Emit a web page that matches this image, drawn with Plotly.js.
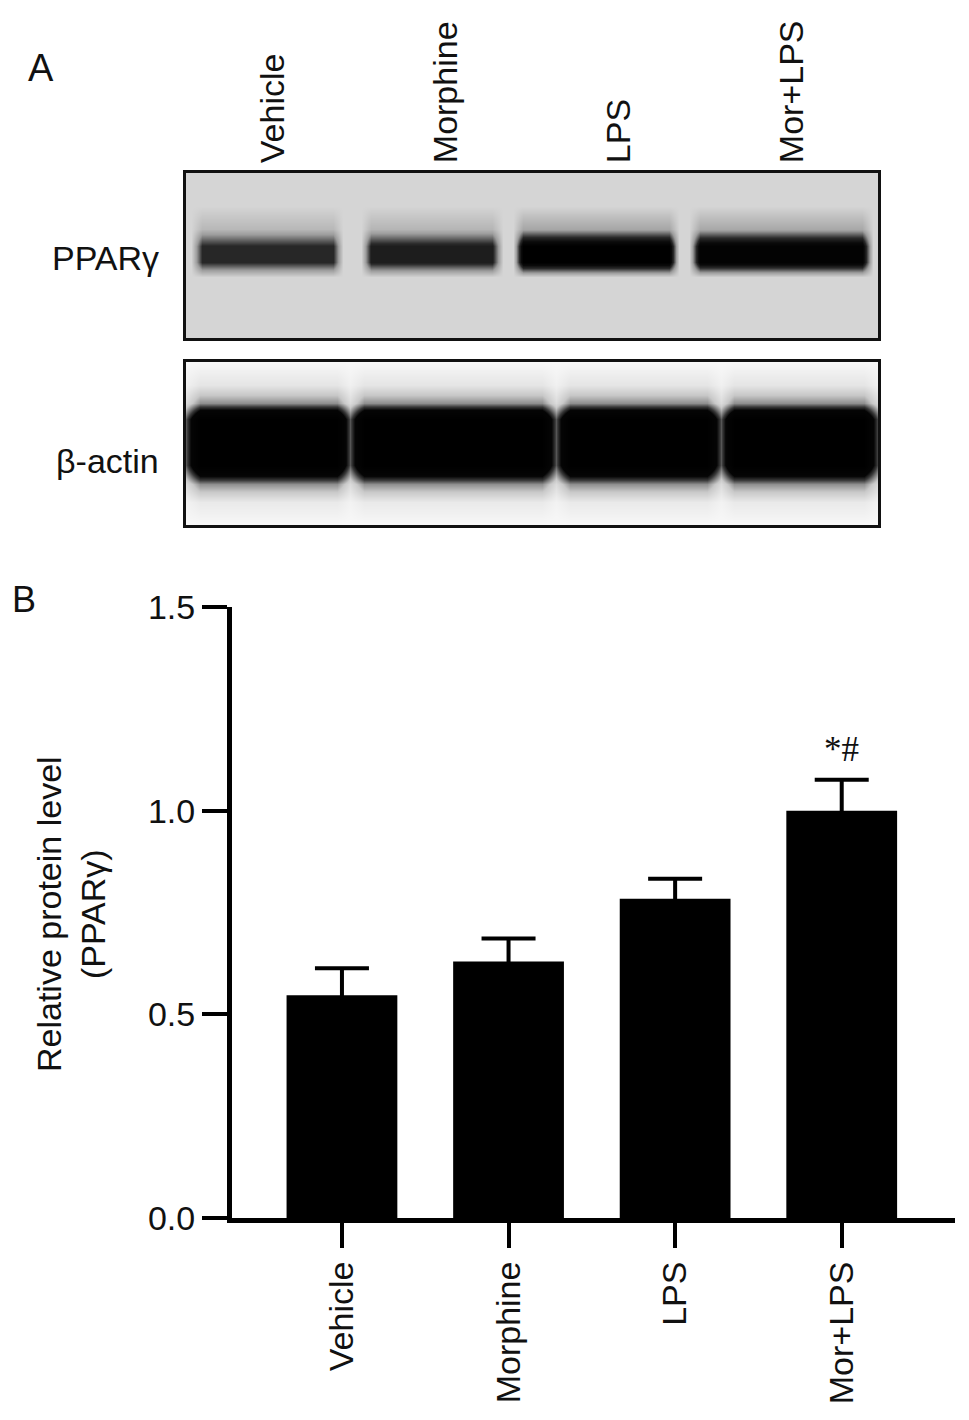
<!DOCTYPE html>
<html>
<head>
<meta charset="utf-8">
<script src="https://cdn.plot.ly/plotly-3.0.1.min.js"></script>
<style>
  body { margin: 0; background: #fff; }
  #plot { width: 969px; height: 1420px; }
</style>
</head>
<body>
<div id="plot"></div>
<script>
// groups (lanes of the blot and bars of the chart)
let arrGroups = ["Vehicle", "Morphine", "LPS", "Mor+LPS"];

// panel B: relative protein level (PPARγ) and its error
let arrLevel = [0.547, 0.630, 0.784, 1.000];
let arrSem = [0.066, 0.056, 0.049, 0.076];
let arrSig = ["", "", "", "*#"];

// panel A: band darkness (1 = fully black)
let arrPparBand = [0.62, 0.68, 1.0, 0.95];
let arrActinBand = [1.0, 1.0, 1.0, 1.0];

// axis ticks of panel B
let arrYTicks = [0, 0.5, 1.0, 1.5];
let arrYTickText = ["0.0", "0.5", "1.0", "1.5"];

// page is 969 x 1420, margins are zero, so convert pixels to paper units
const W = 969, H = 1420;
function fx(px) { return px / W; }
function fy(py) { return 1 - py / H; }

const FONT = "Liberation Sans, Arial, Helvetica, sans-serif";
const lanes = arrGroups.map((g, i) => i);

// blot drawn as a smoothed heatmap: the z grid is built from the band
// darkness, bilinear smoothing gives the soft band edges
function blotPpar() {
  // where the bands sit in each lane (lane units), they are not quite centred
  let shift = [-0.03, -0.08, -0.13, -0.06];
  let halfW = [0.38, 0.35, 0.42, 0.47];
  let ramp = 0.06;
  let xs = [-0.5], colW = [0], colLane = [-1];
  lanes.forEach(i => {
    let c = i + shift[i];
    [[-halfW[i] - ramp, 0], [-halfW[i], 1], [halfW[i], 1], [halfW[i] + ramp, 0]].forEach(p => {
      xs.push(c + p[0]); colW.push(p[1]); colLane.push(i);
    });
  });
  xs.push(3.5); colW.push(0); colLane.push(-1);
  // profile across the band (y is 0..1 inside the box)
  let rows = [[0, 0], [0.37, 0], [0.46, 1], [0.56, 1], [0.66, 0.25], [0.80, 0], [1, 0]];
  let z = rows.map(r => xs.map((x, k) => colLane[k] < 0 ? 0 : arrPparBand[colLane[k]] * colW[k] * r[1]));
  return {
    type: "heatmap", x: xs, y: rows.map(r => r[0]), z: z,
    zmin: 0, zmax: 1, zsmooth: "best", showscale: false,
    colorscale: [[0, "#d5d5d5"], [0.3, "#9c9c9c"], [0.6, "#2a2a2a"], [0.8, "#0a0a0a"], [1, "#000"]],
    xaxis: "x2", yaxis: "y2", hoverinfo: "skip"
  };
}

function blotActin() {
  // the narrow pale gaps between neighbouring actin bands (lane units)
  let gaps = [-0.5, 0.45, 1.64, 2.59, 3.5];
  let edge = 0.08;
  let xs = [], colVal = [];
  lanes.forEach(i => {
    let prev = i > 0 ? arrActinBand[i - 1] : arrActinBand[i];
    xs.push(gaps[i]); colVal.push(0.4 * (prev + arrActinBand[i]) / 2);
    xs.push(gaps[i] + edge); colVal.push(arrActinBand[i]);
    xs.push(gaps[i + 1] - edge); colVal.push(arrActinBand[i]);
  });
  xs.push(gaps[4]); colVal.push(0.4 * arrActinBand[3]);
  let rows = [[0, 0], [0.14, 0.06], [0.25, 0.3], [0.37, 1], [0.65, 1], [0.75, 0.3], [0.86, 0.08], [1, 0]];
  let z = rows.map(r => colVal.map(v => v * r[1]));
  return {
    type: "heatmap", x: xs, y: rows.map(r => r[0]), z: z,
    zmin: 0, zmax: 1, zsmooth: "best", showscale: false,
    colorscale: [[0, "#f8f8f8"], [0.2, "#c8c8c8"], [0.45, "#3a3a3a"], [0.6, "#050505"], [1, "#000"]],
    xaxis: "x3", yaxis: "y3", hoverinfo: "skip"
  };
}

let traces = [blotPpar(), blotActin()];

// panel B bars
traces.push({
  type: "bar",
  x: arrGroups,
  y: arrLevel,
  width: 0.665,
  marker: { color: "#000", line: { width: 0 } },
  error_y: { type: "data", array: arrSem, visible: true, color: "#000", thickness: 4, width: 27 },
  xaxis: "x",
  yaxis: "y",
  hoverinfo: "skip",
  showlegend: false
});

let blotAxis = {
  type: "linear",
  range: [-0.5, 3.5],
  domain: [fx(186), fx(878)],
  showline: true,
  mirror: true,
  linecolor: "#111",
  linewidth: 3,
  ticks: "",
  showgrid: false,
  zeroline: false,
  fixedrange: true
};

// significance marks above the error bars
let arrSigAnn = arrSig.map((s, i) => ({
  text: s, xref: "x", yref: "y", x: arrGroups[i], y: arrLevel[i] + arrSem[i],
  xanchor: "center", yanchor: "bottom", yshift: 9, showarrow: false,
  font: { family: "Liberation Serif, Times New Roman, serif", size: 35, color: "#111" }
})).filter(a => a.text);

let layout = {
  width: W,
  height: H,
  margin: { l: 0, r: 0, t: 0, b: 0 },
  paper_bgcolor: "#fff",
  plot_bgcolor: "rgba(0,0,0,0)",
  font: { family: FONT, size: 34, color: "#111" },
  showlegend: false,

  // panel B axes
  xaxis: {
    type: "category",
    domain: [fx(232), fx(955)],
    range: [-0.66, 3.68],
    anchor: "y",
    showline: true,
    linecolor: "#000",
    linewidth: 5,
    ticks: "outside",
    ticklen: 25,
    tickwidth: 4,
    tickcolor: "#000",
    tickangle: -90,
    tickfont: { family: FONT, size: 34, color: "#111" },
    showgrid: false,
    zeroline: false,
    automargin: false
  },
  yaxis: {
    domain: [fy(1218), fy(607)],
    range: [0, 1.5],
    anchor: "x",
    tickvals: arrYTicks,
    ticktext: arrYTickText,
    showline: true,
    linecolor: "#000",
    linewidth: 5,
    ticks: "outside",
    ticklen: 25,
    tickwidth: 4,
    tickcolor: "#000",
    tickfont: { family: FONT, size: 34, color: "#111" },
    showgrid: false,
    zeroline: false,
    automargin: false
  },

  // panel A: PPARγ blot, lane labels on top
  xaxis2: Object.assign({}, blotAxis, {
    anchor: "y2",
    side: "top",
    tickvals: lanes,
    ticktext: arrGroups,
    showticklabels: true,
    tickangle: -90,
    tickfont: { family: FONT, size: 34, color: "#111" },
    automargin: false
  }),
  yaxis2: Object.assign({}, blotAxis, {
    range: [0, 1],
    domain: [fy(338), fy(173)],
    anchor: "x2",
    showticklabels: false
  }),
  // panel A: β-actin blot
  xaxis3: Object.assign({}, blotAxis, {
    anchor: "y3",
    showticklabels: false
  }),
  yaxis3: Object.assign({}, blotAxis, {
    range: [0, 1],
    domain: [fy(525), fy(362)],
    anchor: "x3",
    showticklabels: false
  }),

  annotations: [
    { text: "A", xref: "paper", yref: "paper", x: fx(26), y: fy(68), xanchor: "left", yanchor: "middle",
      showarrow: false, font: { family: FONT, size: 38, color: "#111" } },
    { text: "B", xref: "paper", yref: "paper", x: fx(10), y: fy(599), xanchor: "left", yanchor: "middle",
      showarrow: false, font: { family: FONT, size: 36, color: "#111" } },
    { text: "PPARγ", xref: "paper", yref: "paper", x: fx(161), y: fy(258), xanchor: "right", yanchor: "middle",
      showarrow: false, font: { family: FONT, size: 34, color: "#111" } },
    { text: "β-actin", xref: "paper", yref: "paper", x: fx(161), y: fy(461), xanchor: "right", yanchor: "middle",
      showarrow: false, font: { family: FONT, size: 34, color: "#111" } },
    { text: "Relative protein level<br>(PPARγ)", xref: "paper", yref: "paper", x: fx(71), y: fy(914),
      xanchor: "center", yanchor: "middle", textangle: -90,
      showarrow: false, font: { family: FONT, size: 34, color: "#111" } }
  ].concat(arrSigAnn)
};

Plotly.newPlot("plot", traces, layout, { staticPlot: true });
</script>
</body>
</html>
